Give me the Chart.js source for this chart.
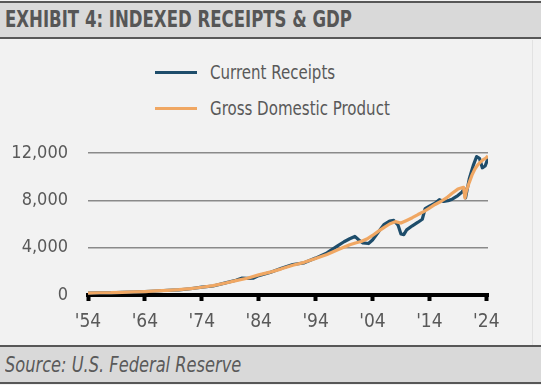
<!DOCTYPE html>
<html>
<head>
<meta charset="utf-8">
<script src="https://cdn.jsdelivr.net/npm/chart.js@4.4.1/dist/chart.umd.min.js"></script>
<style>
  html, body { margin:0; padding:0; }
  body { width:541px; height:385px; position:relative; overflow:hidden; background:#f2f2f2;
         font-family:"Liberation Sans Narrow","DejaVu Sans Condensed","Arial Narrow",sans-serif; color:#595959; }
  #title { position:absolute; left:0; top:1px; width:541px; height:34px; background:#d9d9d9;
           border-top:2px solid #575757; border-bottom:2px solid #575757; }
  #title span { position:absolute; left:5px; top:3px; font-size:23px; font-weight:bold; color:#565656;
                white-space:nowrap; transform:scaleX(0.8); transform-origin:0 0; }
  #footer { position:absolute; left:0; top:345px; width:541px; height:35px; background:#d9d9d9;
            border-top:2px solid #575757; border-bottom:2px solid #575757; }
  #footer span { position:absolute; left:5px; top:5px; font-size:22px; font-style:italic; color:#5a5a5a;
                 white-space:nowrap; transform:scaleX(0.82); transform-origin:0 0; }
  #edge { position:absolute; left:532px; top:40px; width:1px; height:305px; background:#e2e2e2; }
  .lg-line { position:absolute; left:155px; width:42px; height:3px; }
  .lg-text { position:absolute; left:210px; font-size:19px; color:#595959; line-height:20px;
             white-space:nowrap; transform:scaleX(0.88); transform-origin:0 0; }
  #chartwrap { position:absolute; left:0; top:0; width:541px; height:385px; }
</style>
</head>
<body>
<div id="title"><span>EXHIBIT 4: INDEXED RECEIPTS &amp; GDP</span></div>
<div id="edge"></div>
<div class="lg-line" style="top:71px;background:#1e4d6b;"></div>
<div class="lg-text" style="top:62px;">Current Receipts</div>
<div class="lg-line" style="top:107px;background:#f0a763;"></div>
<div class="lg-text" style="top:98px;">Gross Domestic Product</div>
<div id="chartwrap"><canvas id="c" width="541" height="385"></canvas></div>
<div id="footer"><span>Source: U.S. Federal Reserve</span></div>
<script>
// ---- data ----
const seriesNames = ["Current Receipts", "Gross Domestic Product"];
const tickYears = [1954, 1964, 1974, 1984, 1994, 2004, 2014, 2024];
const yTicks = [0, 4000, 8000, 12000];

const gdpYears = [1954,1956,1958,1960,1962,1964,1966,1968,1970,1972,1974,1976,1978,1980,1982,1984,1986,1988,1990,1992,1994,1996,1998,2000,2001,2002,2003,2004,2005,2006,2007,2008,2009,2010,2011,2012,2013,2014,2015,2016,2017,2018,2019,2020.0,2020.25,2020.5,2021.0,2021.5,2022.0,2022.5,2023.0,2023.5,2024.0,2024.3];
const gdpValues = [165,190,198,230,256,290,345,398,455,542,655,795,997,1210,1415,1700,1930,2210,2520,2760,3090,3420,3840,4250,4400,4520,4730,5030,5380,5700,6000,6200,6080,6300,6530,6800,7050,7350,7650,7900,8200,8600,8950,9100,8200,8800,9500,10150,10650,11000,11250,11450,11600,11750];

const receiptYears = [1954,1956,1958,1960,1962,1964,1966,1968,1970,1972,1974,1976,1978,1980,1981,1982,1983,1984,1986,1988,1990,1992,1994,1996,1998,1999,2000,2000.9,2001.6,2002.3,2003.3,2004,2005,2006,2007,2007.75,2008.5,2009.0,2009.5,2010,2011,2012,2012.75,2013.25,2014,2015,2015.75,2016.5,2017.5,2018,2019,2019.75,2020.1,2020.35,2021,2021.75,2022.3,2022.8,2023.3,2023.8,2024.3];
const receiptValues = [160,190,185,225,245,280,340,400,440,530,660,760,1000,1250,1420,1400,1420,1640,1900,2260,2580,2720,3120,3560,4200,4500,4750,4950,4650,4400,4350,4650,5300,5950,6250,6300,5900,5150,5100,5500,5850,6150,6400,7300,7500,7750,8050,7900,8000,8100,8400,8700,9000,8200,9800,11000,11700,11550,10750,10900,11550];

const FONT = '"Liberation Sans Narrow","DejaVu Sans Condensed","Arial Narrow",sans-serif';
Chart.defaults.font.family = FONT;
Chart.defaults.color = '#595959';

const toPts = (xs, ys) => xs.map((x, i) => ({x: x, y: ys[i]}));

new Chart(document.getElementById('c'), {
  type: 'line',
  data: {
    datasets: [
      { label: seriesNames[1], data: toPts(gdpYears, gdpValues), borderColor: '#f0a763', borderWidth: 3.2,
        borderJoinStyle: 'round', pointRadius: 0, tension: 0, order: 0 },
      { label: seriesNames[0], data: toPts(receiptYears, receiptValues), borderColor: '#1e4d6b', borderWidth: 3.2,
        borderJoinStyle: 'round', pointRadius: 0, tension: 0, order: 1 }
    ]
  },
  options: {
    responsive: false,
    animation: false,
    events: [],
    layout: { padding: { left: 0, right: 53, top: 153, bottom: 0 } },
    plugins: { legend: { display: false }, tooltip: { enabled: false } },
    scales: {
      x: {
        type: 'linear', min: 1954, max: 2024.3,
        afterBuildTicks: s => { s.ticks = tickYears.map(v => ({ value: v })); },
        afterFit: s => { s.height = 90; },
        border: { display: true, color: '#000', width: 4 },
        grid: { drawOnChartArea: false, drawTicks: true, tickLength: 6, tickWidth: 4, tickColor: '#000' },
        ticks: { autoSkip: false, maxRotation: 0, padding: 10, font: { size: 19 }, color: '#595959',
                 callback: v => "'" + String(v).slice(2) }
      },
      y: {
        min: 0, max: 12000,
        afterBuildTicks: s => { s.ticks = yTicks.map(v => ({ value: v })); },
        afterFit: s => { s.width = 88; },
        border: { display: false },
        grid: { color: '#8a8a8a', lineWidth: 1.5, drawTicks: false },
        ticks: { padding: 20, font: { size: 18 }, color: '#595959',
                 callback: v => v.toLocaleString('en-US') }
      }
    }
  }
});
</script>
</body>
</html>
